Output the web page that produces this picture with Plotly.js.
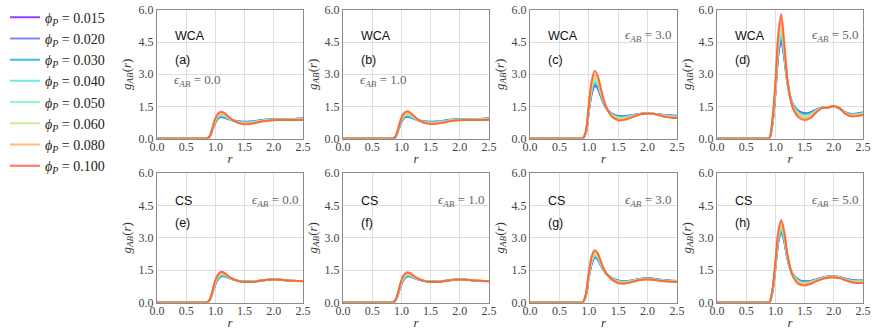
<!DOCTYPE html>
<html>
<head>
<meta charset="utf-8">
<script src="https://cdn.plot.ly/plotly-3.0.1.min.js"></script>
<style>
  html, body { margin: 0; padding: 0; background: #fff; }
  #plotArea { width: 872px; height: 330px; }
</style>
</head>
<body>
<div id="plotArea"></div>
<script>
// r grid shared by every curve
var r = [0, 0.8, 0.85, 0.9, 0.95, 1.0, 1.05, 1.1, 1.15, 1.2, 1.25, 1.3, 1.4, 1.5, 1.6, 1.7, 1.8, 1.9, 2.0, 2.1, 2.2, 2.3, 2.4, 2.5];

var phiLabels = ['0.015', '0.020', '0.030', '0.040', '0.050', '0.060', '0.080', '0.100'];
var colors = ['#7f1fff', '#5a78f5', '#18b8e8', '#4fe8d8', '#7dfab0', '#c3e88a', '#ffb060', '#ff5a30'];

var xTicks = [0, 0.5, 1.0, 1.5, 2.0, 2.5];
var yTicks = [0, 1.5, 3.0, 4.5, 6.0];

// g_AB(r), one row per phi_P (0.015 ... 0.100)
// (a) WCA, eps = 0.0
var gA = [
  [0,0,0,0.08,0.40,0.75,0.95,1.00,0.98,0.93,0.88,0.84,0.79,0.78,0.79,0.82,0.86,0.89,0.90,0.90,0.90,0.91,0.92,0.93],
  [0,0,0,0.08,0.41,0.76,0.96,1.02,0.99,0.94,0.88,0.84,0.79,0.77,0.78,0.81,0.86,0.89,0.90,0.90,0.90,0.91,0.92,0.93],
  [0,0,0,0.08,0.42,0.79,0.99,1.05,1.02,0.96,0.89,0.84,0.78,0.76,0.77,0.80,0.85,0.88,0.89,0.89,0.89,0.90,0.91,0.92],
  [0,0,0,0.09,0.43,0.81,1.02,1.07,1.04,0.97,0.90,0.85,0.77,0.75,0.76,0.79,0.84,0.87,0.89,0.89,0.89,0.90,0.90,0.91],
  [0,0,0,0.09,0.44,0.83,1.04,1.10,1.07,0.99,0.91,0.85,0.76,0.73,0.74,0.78,0.83,0.87,0.88,0.88,0.88,0.89,0.90,0.90],
  [0,0,0,0.09,0.45,0.86,1.07,1.13,1.10,1.01,0.92,0.85,0.75,0.72,0.73,0.77,0.82,0.86,0.87,0.88,0.88,0.88,0.89,0.89],
  [0,0,0,0.10,0.48,0.90,1.12,1.19,1.15,1.04,0.94,0.86,0.74,0.70,0.71,0.75,0.81,0.84,0.86,0.87,0.87,0.87,0.87,0.88],
  [0,0,0,0.10,0.50,0.95,1.18,1.25,1.20,1.08,0.96,0.86,0.72,0.67,0.68,0.73,0.79,0.83,0.85,0.86,0.86,0.86,0.86,0.86]
];
// (b) WCA, eps = 1.0
var gB = [
  [0,0,0,0.08,0.42,0.77,0.97,1.02,0.99,0.94,0.89,0.84,0.79,0.78,0.79,0.82,0.86,0.89,0.90,0.90,0.90,0.91,0.92,0.93],
  [0,0,0,0.08,0.43,0.78,0.98,1.04,1.00,0.95,0.89,0.84,0.79,0.77,0.78,0.81,0.86,0.89,0.90,0.90,0.90,0.91,0.92,0.93],
  [0,0,0,0.08,0.44,0.81,1.01,1.07,1.03,0.97,0.90,0.84,0.78,0.76,0.77,0.80,0.85,0.88,0.89,0.89,0.89,0.90,0.91,0.92],
  [0,0,0,0.09,0.45,0.83,1.04,1.09,1.05,0.98,0.91,0.85,0.77,0.75,0.76,0.79,0.84,0.87,0.89,0.89,0.89,0.90,0.90,0.91],
  [0,0,0,0.09,0.46,0.85,1.06,1.12,1.08,1.00,0.92,0.85,0.76,0.73,0.74,0.78,0.83,0.87,0.88,0.88,0.88,0.89,0.90,0.90],
  [0,0,0,0.09,0.47,0.88,1.09,1.15,1.11,1.02,0.93,0.85,0.75,0.72,0.73,0.77,0.82,0.86,0.87,0.88,0.88,0.88,0.89,0.89],
  [0,0,0,0.10,0.50,0.92,1.14,1.21,1.16,1.05,0.95,0.86,0.74,0.70,0.71,0.75,0.81,0.84,0.86,0.87,0.87,0.87,0.87,0.88],
  [0,0,0,0.10,0.52,0.97,1.20,1.27,1.21,1.09,0.97,0.86,0.72,0.68,0.69,0.73,0.79,0.83,0.85,0.86,0.86,0.86,0.86,0.87]
];
// (c) WCA, eps = 3.0
var gC = [
  [0,0,0,0,0.25,1.25,2.10,2.45,2.35,2.00,1.65,1.40,1.15,1.05,1.04,1.07,1.12,1.16,1.18,1.16,1.12,1.09,1.07,1.06],
  [0,0,0,0,0.26,1.27,2.14,2.49,2.39,2.02,1.66,1.40,1.14,1.04,1.03,1.06,1.12,1.16,1.18,1.16,1.12,1.09,1.06,1.05],
  [0,0,0,0,0.27,1.31,2.21,2.58,2.46,2.07,1.69,1.41,1.12,1.01,1.01,1.05,1.11,1.16,1.18,1.16,1.11,1.08,1.05,1.04],
  [0,0,0,0.01,0.28,1.35,2.27,2.65,2.52,2.12,1.71,1.41,1.11,0.99,0.99,1.04,1.10,1.15,1.18,1.16,1.11,1.07,1.04,1.03],
  [0,0,0,0.01,0.29,1.39,2.35,2.74,2.60,2.16,1.73,1.42,1.09,0.97,0.97,1.02,1.10,1.15,1.18,1.16,1.10,1.06,1.03,1.02],
  [0,0,0,0.01,0.30,1.44,2.42,2.82,2.67,2.21,1.76,1.43,1.07,0.94,0.94,1.01,1.09,1.15,1.17,1.15,1.10,1.05,1.02,1.01],
  [0,0,0,0.02,0.33,1.52,2.56,2.98,2.81,2.30,1.80,1.44,1.04,0.90,0.90,0.98,1.07,1.14,1.17,1.15,1.09,1.03,0.99,0.98],
  [0,0,0,0.02,0.35,1.60,2.70,3.15,2.95,2.40,1.85,1.45,1.00,0.85,0.86,0.95,1.06,1.14,1.17,1.15,1.08,1.01,0.97,0.96]
];
// (d) WCA, eps = 5.0
var gD = [
  [0,0,0,0.03,0.70,2.10,3.90,4.55,3.80,2.70,2.00,1.60,1.28,1.18,1.22,1.35,1.45,1.46,1.48,1.40,1.22,1.14,1.17,1.22],
  [0,0,0,0.03,0.71,2.13,3.96,4.63,3.84,2.71,2.00,1.59,1.26,1.16,1.20,1.34,1.45,1.46,1.48,1.40,1.22,1.13,1.16,1.21],
  [0,0,0,0.03,0.74,2.19,4.08,4.78,3.93,2.74,1.99,1.56,1.23,1.12,1.17,1.33,1.44,1.46,1.49,1.40,1.21,1.12,1.15,1.20],
  [0,0,0,0.03,0.76,2.25,4.19,4.91,4.00,2.76,1.99,1.54,1.19,1.09,1.14,1.31,1.44,1.46,1.49,1.41,1.20,1.11,1.14,1.19],
  [0,0,0,0.03,0.78,2.31,4.31,5.06,4.09,2.78,1.98,1.52,1.16,1.05,1.11,1.30,1.44,1.46,1.50,1.41,1.19,1.09,1.12,1.17],
  [0,0,0,0.04,0.81,2.37,4.43,5.21,4.17,2.81,1.97,1.49,1.12,1.01,1.08,1.28,1.43,1.46,1.50,1.41,1.18,1.08,1.11,1.16],
  [0,0,0,0.04,0.85,2.48,4.66,5.50,4.33,2.85,1.96,1.45,1.05,0.94,1.01,1.25,1.43,1.45,1.51,1.42,1.17,1.06,1.08,1.13],
  [0,0,0,0.04,0.90,2.60,4.90,5.80,4.50,2.90,1.95,1.40,0.98,0.86,0.95,1.22,1.42,1.45,1.52,1.42,1.15,1.03,1.05,1.10]
];
// (e) CS, eps = 0.0
var gE = [
  [0,0,0,0.10,0.45,0.85,1.10,1.22,1.22,1.17,1.12,1.07,1.00,0.97,0.97,0.99,1.02,1.05,1.06,1.05,1.03,1.01,1.00,1.00],
  [0,0,0,0.10,0.46,0.86,1.11,1.23,1.23,1.18,1.12,1.07,1.00,0.97,0.97,0.99,1.02,1.05,1.06,1.05,1.03,1.01,1.00,1.00],
  [0,0,0,0.10,0.47,0.89,1.14,1.26,1.25,1.19,1.13,1.07,1.00,0.97,0.97,0.99,1.02,1.05,1.06,1.05,1.03,1.01,1.00,1.00],
  [0,0,0,0.11,0.48,0.91,1.16,1.28,1.27,1.20,1.13,1.08,1.00,0.96,0.96,0.99,1.02,1.05,1.06,1.05,1.03,1.01,1.00,1.00],
  [0,0,0,0.11,0.49,0.93,1.19,1.30,1.29,1.21,1.14,1.08,1.00,0.96,0.96,0.98,1.02,1.05,1.06,1.05,1.03,1.01,1.00,1.00],
  [0,0,0,0.11,0.50,0.96,1.22,1.33,1.30,1.22,1.15,1.08,0.99,0.96,0.96,0.98,1.02,1.05,1.06,1.05,1.03,1.01,1.00,0.99],
  [0,0,0,0.12,0.53,1.00,1.27,1.37,1.34,1.25,1.16,1.09,0.99,0.95,0.95,0.98,1.02,1.05,1.06,1.05,1.03,1.01,1.00,0.99],
  [0,0,0,0.12,0.55,1.05,1.32,1.42,1.38,1.27,1.17,1.09,0.99,0.95,0.95,0.98,1.02,1.05,1.06,1.05,1.03,1.01,1.00,0.99]
];
// (f) CS, eps = 1.0
var gF = [
  [0,0,0,0.10,0.45,0.85,1.09,1.21,1.21,1.16,1.11,1.06,1.00,0.97,0.97,0.99,1.02,1.05,1.06,1.05,1.03,1.01,1.00,1.00],
  [0,0,0,0.10,0.46,0.86,1.10,1.22,1.22,1.17,1.11,1.06,1.00,0.97,0.97,0.99,1.02,1.05,1.06,1.05,1.03,1.01,1.00,1.00],
  [0,0,0,0.10,0.47,0.88,1.13,1.25,1.24,1.18,1.12,1.07,1.00,0.97,0.97,0.99,1.02,1.05,1.06,1.05,1.03,1.01,1.00,1.00],
  [0,0,0,0.11,0.48,0.90,1.15,1.27,1.26,1.19,1.12,1.07,1.00,0.96,0.96,0.99,1.02,1.05,1.06,1.05,1.03,1.01,1.00,1.00],
  [0,0,0,0.11,0.49,0.92,1.18,1.29,1.27,1.20,1.13,1.07,1.00,0.96,0.96,0.98,1.02,1.05,1.06,1.05,1.03,1.01,1.00,1.00],
  [0,0,0,0.11,0.50,0.95,1.21,1.31,1.29,1.21,1.14,1.08,0.99,0.96,0.96,0.98,1.02,1.05,1.06,1.05,1.03,1.01,1.00,0.99],
  [0,0,0,0.12,0.53,0.99,1.26,1.36,1.33,1.24,1.15,1.08,0.99,0.95,0.95,0.98,1.02,1.05,1.06,1.05,1.03,1.01,1.00,0.99],
  [0,0,0,0.12,0.55,1.04,1.30,1.40,1.36,1.26,1.16,1.09,0.99,0.95,0.95,0.98,1.02,1.05,1.06,1.05,1.03,1.01,1.00,0.99]
];
// (g) CS, eps = 3.0
var gG = [
  [0,0,0,0,0.30,1.15,1.80,2.08,2.00,1.75,1.50,1.32,1.12,1.02,0.99,1.01,1.06,1.10,1.12,1.10,1.06,1.03,1.01,1.00],
  [0,0,0,0,0.31,1.17,1.82,2.10,2.02,1.76,1.51,1.32,1.12,1.01,0.98,1.00,1.06,1.10,1.12,1.10,1.06,1.03,1.01,1.00],
  [0,0,0,0,0.32,1.20,1.86,2.14,2.05,1.79,1.52,1.33,1.11,1.00,0.97,0.99,1.05,1.09,1.11,1.09,1.05,1.02,1.00,0.99],
  [0,0,0,0.01,0.33,1.22,1.90,2.18,2.09,1.81,1.53,1.33,1.10,0.99,0.96,0.98,1.04,1.09,1.10,1.09,1.05,1.02,1.00,0.99],
  [0,0,0,0.01,0.34,1.25,1.94,2.22,2.12,1.83,1.54,1.33,1.09,0.97,0.94,0.97,1.04,1.08,1.10,1.08,1.04,1.01,0.99,0.98],
  [0,0,0,0.01,0.35,1.28,1.99,2.26,2.16,1.86,1.55,1.34,1.08,0.96,0.93,0.96,1.03,1.07,1.09,1.07,1.03,1.00,0.98,0.97],
  [0,0,0,0.02,0.38,1.34,2.07,2.34,2.23,1.90,1.58,1.34,1.07,0.93,0.90,0.94,1.01,1.06,1.07,1.06,1.02,0.99,0.97,0.96],
  [0,0,0,0.02,0.40,1.40,2.15,2.42,2.30,1.95,1.60,1.35,1.05,0.90,0.87,0.92,1.00,1.05,1.06,1.05,1.01,0.98,0.96,0.95]
];
// (h) CS, eps = 5.0
var gH = [
  [0,0,0,0.02,0.50,1.60,2.80,3.25,2.85,2.10,1.60,1.30,1.05,0.98,1.00,1.07,1.15,1.20,1.21,1.18,1.10,1.04,1.02,1.02],
  [0,0,0,0.02,0.51,1.62,2.83,3.28,2.88,2.12,1.60,1.29,1.04,0.97,0.99,1.06,1.15,1.20,1.21,1.18,1.10,1.03,1.01,1.01],
  [0,0,0,0.02,0.52,1.65,2.89,3.35,2.93,2.15,1.61,1.28,1.01,0.95,0.97,1.05,1.14,1.19,1.20,1.17,1.09,1.02,1.00,1.00],
  [0,0,0,0.02,0.53,1.69,2.95,3.42,2.98,2.17,1.61,1.27,0.99,0.92,0.96,1.04,1.13,1.19,1.20,1.17,1.08,1.01,0.99,0.99],
  [0,0,0,0.02,0.54,1.72,3.01,3.48,3.03,2.20,1.62,1.26,0.97,0.90,0.94,1.03,1.13,1.18,1.19,1.16,1.07,1.00,0.97,0.97],
  [0,0,0,0.02,0.55,1.76,3.07,3.55,3.09,2.23,1.63,1.25,0.94,0.88,0.93,1.02,1.12,1.17,1.18,1.15,1.06,0.99,0.96,0.96],
  [0,0,0,0.03,0.58,1.83,3.18,3.68,3.19,2.29,1.64,1.22,0.90,0.84,0.89,1.00,1.10,1.16,1.17,1.14,1.05,0.96,0.93,0.93],
  [0,0,0,0.03,0.60,1.90,3.30,3.82,3.30,2.35,1.65,1.20,0.85,0.79,0.86,0.98,1.09,1.15,1.16,1.13,1.03,0.94,0.90,0.90]
];

var panels = [
  {g: gA, model: 'WCA', tag: '(a)', eps: '0.0'},
  {g: gB, model: 'WCA', tag: '(b)', eps: '1.0'},
  {g: gC, model: 'WCA', tag: '(c)', eps: '3.0'},
  {g: gD, model: 'WCA', tag: '(d)', eps: '5.0'},
  {g: gE, model: 'CS', tag: '(e)', eps: '0.0'},
  {g: gF, model: 'CS', tag: '(f)', eps: '1.0'},
  {g: gG, model: 'CS', tag: '(g)', eps: '3.0'},
  {g: gH, model: 'CS', tag: '(h)', eps: '5.0'}
];

// pixel boxes of the subplots in the 872x330 page
var W = 872, H = 330;
var colPx = [[157, 303], [343, 489], [530, 677], [717, 863]];
var rowPx = [[10, 138.5], [173, 302.5]];

var serif = 'Liberation Serif, DejaVu Serif, serif';
var sans = 'Liberation Sans, Arial, sans-serif';

var data = [];
var layout = {
  width: W, height: H,
  margin: {l: 0, r: 0, t: 0, b: 0},
  paper_bgcolor: '#fff',
  plot_bgcolor: '#fff',
  showlegend: true,
  legend: {
    x: 5 / W, y: 0.995, xanchor: 'left', yanchor: 'top',
    font: {family: serif, size: 14, color: '#222'},
    bgcolor: 'rgba(0,0,0,0)', borderwidth: 0
  },
  annotations: []
};

panels.forEach(function (p, i) {
  var n = i === 0 ? '' : String(i + 1);
  var col = colPx[i % 4], row = rowPx[Math.floor(i / 4)];

  p.g.forEach(function (vals, k) {
    data.push({
      x: r, y: vals,
      xaxis: 'x' + n, yaxis: 'y' + n,
      type: 'scatter', mode: 'lines',
      line: {color: colors[k], width: 2, shape: 'spline', smoothing: 0.8},
      opacity: 0.85,
      name: '<i>ϕ</i><sub><i>P</i></sub> = ' + phiLabels[k],
      showlegend: i === 0,
      hoverinfo: 'skip'
    });
  });

  layout['xaxis' + n] = {
    domain: [col[0] / W, col[1] / W],
    anchor: 'y' + n,
    range: [0, 2.5],
    tickvals: xTicks, tickformat: '.1f',
    showgrid: true, gridcolor: '#dedede', gridwidth: 1,
    zeroline: false, ticks: '', ticklen: 0, ticklabelstandoff: -3,
    showline: true, mirror: true, linecolor: '#8a8a8a', linewidth: 1,
    tickfont: {family: serif, size: 12, color: '#444'},
    title: {text: '<i>r</i>', font: {family: serif, size: 13, color: '#333'}, standoff: 0}
  };
  layout['yaxis' + n] = {
    domain: [1 - row[1] / H, 1 - row[0] / H],
    anchor: 'x' + n,
    range: [0, 6],
    tickvals: yTicks, tickformat: '.1f',
    showgrid: true, gridcolor: '#dedede', gridwidth: 1,
    zeroline: false, ticks: '', ticklen: 0,
    showline: true, mirror: true, linecolor: '#8a8a8a', linewidth: 1,
    tickfont: {family: serif, size: 12, color: '#444'},
    title: {text: '<i>g</i><sub><i>AB</i></sub>(<i>r</i>)', font: {family: serif, size: 13, color: '#333'}, standoff: 4}
  };

  var top = i < 4;
  var yModel = top ? 4.79 : 4.72;
  layout.annotations.push({
    xref: 'x' + n, yref: 'y' + n, x: 0.27, y: yModel,
    text: p.model, showarrow: false, xanchor: 'left', yanchor: 'middle',
    font: {family: sans, size: 12.5, color: '#111'}
  });
  layout.annotations.push({
    xref: 'x' + n, yref: 'y' + n, x: 0.27, y: 3.67,
    text: p.tag, showarrow: false, xanchor: 'left', yanchor: 'middle',
    font: {family: sans, size: 12.5, color: '#111'}
  });
  var leftEps = (i === 0 || i === 1);
  layout.annotations.push({
    xref: 'x' + n, yref: 'y' + n,
    x: leftEps ? 0.25 : 2.44, y: leftEps ? 2.72 : yModel,
    text: '<i>ϵ</i><sub><i>AB</i></sub> = ' + p.eps,
    showarrow: false, xanchor: leftEps ? 'left' : 'right', yanchor: 'middle',
    font: {family: serif, size: 13, color: '#666'}
  });
});

Plotly.newPlot('plotArea', data, layout, {staticPlot: true, displayModeBar: false});
</script>
</body>
</html>
